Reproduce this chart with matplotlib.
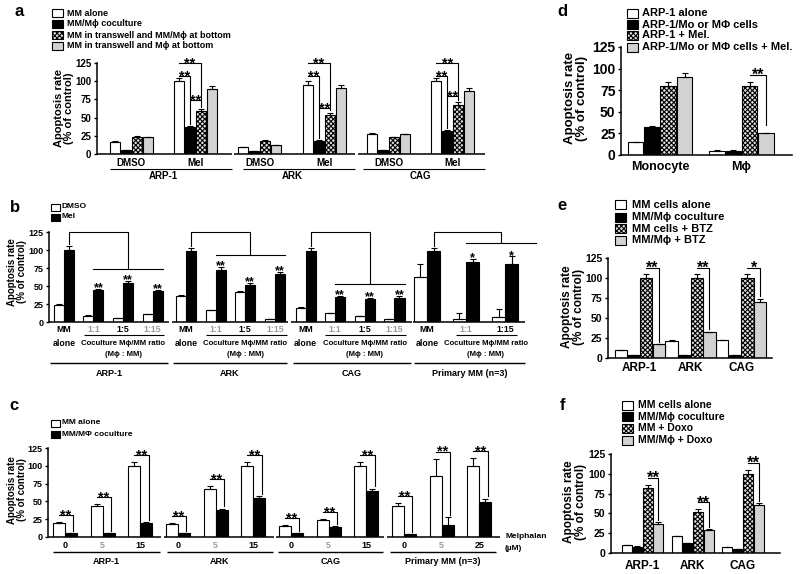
import matplotlib
matplotlib.use('Agg')
import numpy as np
import matplotlib.pyplot as plt
from matplotlib.patches import Rectangle
from matplotlib.transforms import offset_copy

plt.rcParams['font.family'] = ['Liberation Sans', 'DejaVu Sans']
plt.rcParams['font.weight'] = 'bold'
plt.rcParams['hatch.linewidth'] = 0.8

# ---------------- data ----------------
# a
a_lines = ['ARP-1', 'ARK', 'CAG']
a_conds = ['DMSO', 'Mel']
a_labels = ['MM alone', 'MM/Mϕ coculture', 'MM in transwell and MM/Mϕ at bottom',
            'MM in transwell and Mϕ at bottom']
a_dmso = [[17, 5, 24, 23], [9, 4, 18, 12], [28, 5, 23, 27]]
a_dmso_err = [[0.5, 0.3, 1, 1], [0.5, 0.3, 1, 0.5], [1, 0.3, 1, 1]]
a_mel = [[100, 37, 59, 89], [95, 18, 54, 90], [100, 31, 67, 86]]
a_mel_err = [[5, 1.5, 2.5, 5], [5, 1, 3, 5], [5, 1.5, 4, 5]]

# b
b_lines = ['ARP-1', 'ARK', 'CAG', 'Primary MM (n=3)']
b_ratios = [['1:1', '1:5', '1:15'], ['1:1', '1:5', '1:15'], ['1:1', '1:5', '1:15'], ['1:1', '1:15']]
b_dmso = [[24, 9, 5, 11], [36, 16, 41, 4], [20, 12, 8, 4], [63, 4, 7]]
b_dmso_err = [[1, 0.5, 0.5, 0.5], [1.5, 0.5, 2, 0.5], [1, 0.5, 0.5, 0.5], [17, 9, 11]]
b_mel = [[100, 44, 54, 43], [98, 72, 51, 66], [98, 35, 32, 34], [98, 84, 81]]
b_mel_err = [[5, 2, 3, 2], [5, 4, 3, 4], [5, 1.5, 2, 2], [5, 3, 10]]
b_stars = ['**', '**', '**', '*']

# c
c_lines = ['ARP-1', 'ARK', 'CAG', 'Primary MM (n=3)']
c_doses = [['0', '5', '15'], ['0', '5', '15'], ['0', '5', '15'], ['0', '5', '25']]
c_alone = [20, 44, 100, 18, 68, 100, 16, 24, 100, 44, 86, 100]
c_alone_err = [1, 2, 5, 2, 4, 5, 0.5, 1, 5, 4, 24, 11]
c_cocult = [5, 5, 20, 5, 38, 55, 5, 14, 65, 4, 17, 49]
c_cocult_err = [0.3, 0.3, 1, 0.3, 2, 3, 0.3, 1, 3, 0.3, 11, 5]

# d
d_cells = ['Monocyte', 'Mϕ']
d_labels = ['ARP-1 alone', 'ARP-1/Mo or MΦ cells', 'ARP-1 + Mel.', 'ARP-1/Mo or MΦ cells + Mel.']
d_vals = [[15, 32, 80, 90], [5, 5, 80, 25]]
d_err = [[0.5, 1, 4, 5], [0.3, 0.3, 4, 1]]

# e
e_lines = ['ARP-1', 'ARK', 'CAG']
e_labels = ['MM cells alone', 'MM/Mϕ coculture', 'MM cells + BTZ', 'MM/Mϕ + BTZ']
e_vals = [[10, 4, 100, 17], [21, 4, 100, 32], [22, 4, 100, 70]]
e_err = [[0.5, 0.3, 5, 0.5], [1, 0.3, 5, 1], [1, 0.3, 5, 4]]
e_stars = ['**', '**', '*']

# f
f_lines = ['ARP-1', 'ARK', 'CAG']
f_labels = ['MM cells alone', 'MM/Mϕ coculture', 'MM + Doxo', 'MM/Mϕ + Doxo']
f_vals = [[10, 8, 82, 37], [21, 12, 52, 29], [7, 5, 100, 60]]
f_err = [[0.5, 0.3, 4, 2], [1, 0.5, 3, 1], [0.5, 0.3, 5, 3]]
f_stars = ['**', '**', '**']

# ---------------- helpers ----------------
W, H = 800, 574
fig = plt.figure(figsize=(8, 5.74), dpi=100)
FILL = ['white', 'black', '#e0e0e0', '#d2d2d2']
HATCH = [None, None, 'xxxxxxx', None]
GREY = '#9a9a9a'


def make_ax(left, right, top, bottom, xlim, tsize):
    ax = fig.add_axes([left / W, 1 - bottom / H, (right - left) / W, (bottom - top) / H])
    ax.set_xlim(*xlim)
    ax.set_ylim(0, 125)
    ax.set_yticks([0, 25, 50, 75, 100, 125])
    ax.spines['top'].set_visible(False)
    ax.spines['right'].set_visible(False)
    ax.spines['left'].set_linewidth(1.1)
    ax.spines['bottom'].set_linewidth(1.1)
    ax.tick_params(axis='y', length=2.5, width=1, labelsize=tsize, pad=1.5)
    ax.tick_params(axis='x', length=0)
    ax.set_xticks([])
    return ax


def bars4(ax, centers, vals, errs, width, step):
    vals = np.array(vals, float)
    errs = np.array(errs, float)
    centers = np.array(centers, float)
    for i in range(4):
        x = centers + (i - 1.5) * step
        ax.bar(x, vals[:, i], width, color=FILL[i], edgecolor='k', hatch=HATCH[i], lw=0.8, zorder=2)
        ax.errorbar(x, vals[:, i], yerr=[np.zeros(len(x)), errs[:, i]], fmt='none', ecolor='k',
                    elinewidth=0.8, capsize=2, capthick=0.8, zorder=3)


def under(ax, x0, x1, px, lw=0.9):
    tr = offset_copy(ax.get_xaxis_transform(), fig=fig, y=-px, units='dots')
    ax.plot([x0, x1], [0, 0], transform=tr, color='k', lw=lw, clip_on=False, solid_capstyle='butt')


def under_text(ax, x, px, s, size, color='k', weight='bold'):
    tr = offset_copy(ax.get_xaxis_transform(), fig=fig, y=-px, units='dots')
    ax.text(x, 0, s, transform=tr, ha='center', va='center', fontsize=size, color=color, fontweight=weight)


def star(ax, x, y, s, size):
    ax.annotate(s, (x, y), xytext=(0, -0.3 * size), textcoords='offset points',
                ha='center', va='baseline', fontsize=size, annotation_clip=False)


def bracket(ax, x1, x2, h, y_end, s, size=10):
    ax.plot([x1, x2, x2], [h, h, y_end], color='k', lw=0.8, clip_on=False)
    star(ax, (x1 + x2) / 2, h, s, size)


def legend(x, ys, labels, w, h, size, gap=4, styles=(0, 1, 2, 3)):
    for y, lab, i in zip(ys, labels, styles):
        fig.add_artist(Rectangle((x / W, 1 - (y + h / 2) / H), w / W, h / H, transform=fig.transFigure,
                                 facecolor=FILL[i], edgecolor='k', hatch=HATCH[i], lw=0.8))
        fig.text((x + w + gap) / W, 1 - y / H, lab, fontsize=size, va='center', ha='left')


def ylab(x, y, size):
    fig.text(x / W, 1 - y / H, 'Apoptosis rate\n(% of control)', rotation=90, ha='center',
             va='center', fontsize=size, linespacing=1.05)


def plabel(x, y, s):
    fig.text(x / W, 1 - y / H, s, fontsize=12, va='center', ha='left')


# ---------------- panel a ----------------
ax = make_ax(97, 485, 63, 154, (-0.53, 5.5), 7)
ax.spines['bottom'].set_visible(False)
s = 0.171
for g in range(3):
    cd, cm = 2 * g, 2 * g + 1
    bars4(ax, [cd], [a_dmso[g]], [a_dmso_err[g]], 0.155, s)
    bars4(ax, [cm], [a_mel[g]], [a_mel_err[g]], 0.155, s)
    xw, xb, xc = cm - 1.5 * s, cm - 0.5 * s, cm + 0.5 * s
    h3 = [74, 63, 79][g]
    bracket(ax, xw, xb, 107, a_mel[g][1] + a_mel_err[g][1] + 3, '**', 10.5)
    bracket(ax, xw, xc, 125, h3 + 2, '**', 10.5)
    bracket(ax, xb, xc, h3, a_mel[g][2] + a_mel_err[g][2] + 3, '**', 10.5)
    under_text(ax, cd, 9, a_conds[0], 7)
    under_text(ax, cm, 9, a_conds[1], 7)
    under_text(ax, cd + 0.5, 22, a_lines[g], 7)
for x0, x1 in [(-0.53, 1.57), (1.6, 3.48), (3.53, 5.5)]:
    under(ax, x0, x1, 0, lw=1.1)
for x0, x1 in [(-0.33, 1.57), (1.74, 3.48), (3.61, 5.5)]:
    under(ax, x0, x1, 14.5, lw=0.8)
ylab(64, 108, 8)
plabel(14, 12, 'a')
legend(52, [13, 24, 35, 46], a_labels, 11, 7, 6.5)

# ---------------- panel b ----------------
ax = make_ax(49, 525, 232, 322, (0, 16.08), 6.5)
ax.spines['bottom'].set_visible(False)
b_off = [0.0, 4.13, 8.17, 12.27]
b_lower = [73, 93, 53, 110]
b_span = [(0.0, 4.05), (4.16, 8.07), (8.18, 12.26), (12.3, 16.08)]
b_gline = [(0.03, 4.02), (4.19, 8.04), (8.24, 12.22), (12.32, 16.08)]
for g in range(4):
    n = len(b_mel[g])
    if n == 4:
        pos = b_off[g] + np.array([0.5, 1.5, 2.5, 3.5])
        w = 0.34
        ext = 0.0
    else:
        pos = b_off[g] + np.array([0.5, 1.82, 3.14])
        w = 0.45
        ext = 0.6
    ax.bar(pos - w / 2, b_dmso[g], w, color='white', edgecolor='k', lw=0.8, zorder=2)
    ax.bar(pos + w / 2, b_mel[g], w, color='black', edgecolor='k', lw=0.8, zorder=2)
    ax.errorbar(pos - w / 2, b_dmso[g], yerr=[np.zeros(n), b_dmso_err[g]], fmt='none', ecolor='k',
                elinewidth=0.8, capsize=2, capthick=0.8, zorder=3)
    ax.errorbar(pos + w / 2, b_mel[g], yerr=[np.zeros(n), b_mel_err[g]], fmt='none', ecolor='k',
                elinewidth=0.8, capsize=2, capthick=0.8, zorder=3)
    for i in range(1, n):
        star(ax, pos[i] + w / 2, b_mel[g][i] + b_mel_err[g][i] + 2, b_stars[g], 9)
    # brackets
    xl, xr = pos[1], pos[-1] + w + ext
    xm = (xl + xr) / 2
    L = b_lower[g]
    ax.plot([xl, xr], [L, L], color='k', lw=0.8, clip_on=False)
    x0 = pos[0] + w / 2
    ax.plot([x0, x0, xm, xm], [b_mel[g][0] + b_mel_err[g][0] + 3, 125, 125, L], color='k', lw=0.8,
            clip_on=False)
    # labels
    under_text(ax, pos[0], 8, 'MM', 6.3)
    under_text(ax, pos[0], 21, 'alone', 6.3)
    for i, r in enumerate(b_ratios[g]):
        bold_r = (r == '1:5') or (n == 3 and r == '1:15')
        under_text(ax, pos[i + 1], 8, r, 6.3, color='k' if bold_r else GREY)
    under(ax, pos[1] - 0.33, pos[-1] + 0.4, 13, lw=0.8)
    mid = (pos[1] + pos[-1]) / 2
    under_text(ax, mid, 21.5, 'Coculture Mϕ/MM ratio', 5.6)
    under_text(ax, mid, 33, '(Mϕ : MM)', 5.6)
    under(ax, *b_span[g], 0, lw=1.1)
    under(ax, *b_gline[g], 41, lw=1.0)
    under_text(ax, (b_gline[g][0] + b_gline[g][1]) / 2, 51, b_lines[g], 6.5)
ylab(17, 272, 7)
plabel(10, 208, 'b')
legend(51, [207, 217], ['DMSO', 'Mel'], 9, 7, 6, gap=2, styles=(0, 1))

# ---------------- panel c ----------------
ax = make_ax(48, 500, 448, 537, (0, 12), 6.5)
ax.spines['bottom'].set_visible(False)
c_span = [(0, 2.99), (3.08, 5.99), (6.05, 8.93), (9.0, 12.0)]
c_gline = [(0.13, 2.97), (3.16, 5.97), (6.1, 8.89), (9.07, 11.9)]
cpos = np.arange(12) + 0.45
w = 0.32
ax.bar(cpos - w / 2, c_alone, w, color='white', edgecolor='k', lw=0.8, zorder=2)
ax.bar(cpos + w / 2, c_cocult, w, color='black', edgecolor='k', lw=0.8, zorder=2)
ax.errorbar(cpos - w / 2, c_alone, yerr=[np.zeros(12), c_alone_err], fmt='none', ecolor='k',
            elinewidth=0.8, capsize=2, capthick=0.8, zorder=3)
ax.errorbar(cpos + w / 2, c_cocult, yerr=[np.zeros(12), c_cocult_err], fmt='none', ecolor='k',
            elinewidth=0.8, capsize=2, capthick=0.8, zorder=3)
for k in range(12):
    h = c_alone[k] + c_alone_err[k] + 10
    bracket(ax, cpos[k] - w / 2, cpos[k] + w / 2 + 0.06, h, c_cocult[k] + c_cocult_err[k] + 3, '**', 10.5)
for g in range(4):
    for i, d in enumerate(c_doses[g]):
        under_text(ax, cpos[3 * g + i], 8, d, 6.5, color=GREY if d == '5' else 'k')
    under(ax, *c_span[g], 0, lw=1.1)
    under(ax, *c_gline[g], 15, lw=1.0)
    under_text(ax, (c_gline[g][0] + c_gline[g][1]) / 2, 24, c_lines[g], 6.5)
fig.text(505 / W, 1 - 537 / H, 'Melphalan', fontsize=6, va='center', ha='left')
fig.text(505 / W, 1 - 549 / H, '(µM)', fontsize=6, va='center', ha='left')
ylab(17, 490, 7)
plabel(9, 406, 'c')
legend(51, [423, 434], ['MM alone', 'MM/MΦ coculture'], 9, 7, 6, gap=2, styles=(0, 1))

# ---------------- panel d ----------------
ax = make_ax(621, 792, 47, 155, (-0.48, 1.62), 10)
bars4(ax, [0, 1], d_vals, d_err, 0.19, 0.2)
ax.set_xticks([0, 1])
ax.set_xticklabels(d_cells, fontsize=9)
ax.tick_params(axis='x', pad=4)
bracket(ax, 1 + 0.1, 1 + 0.3, 93, d_vals[1][3] + d_err[1][3] + 9, '**', 11.5)
ylab(576, 98, 9.5)
plabel(557, 12, 'd')
legend(627, [13, 24.5, 35.5, 47], d_labels, 11, 9, 8, gap=4)

# ---------------- panel e ----------------
ax = make_ax(608, 772, 258, 358, (-0.63, 2.61), 7.5)
bars4(ax, [0, 1, 2], e_vals, e_err, 0.24, 0.25)
ax.set_xticks([0, 1, 2])
ax.set_xticklabels(e_lines, fontsize=8.5)
ax.tick_params(axis='x', pad=3)
for g in range(3):
    bracket(ax, g + 0.125, g + 0.375, 113, e_vals[g][3] + e_err[g][3] + 3, e_stars[g], 11.5)
ylab(573, 307, 8.5)
plabel(557, 206, 'e')
legend(615, [205, 217, 228.5, 240], e_labels, 11, 9, 8, gap=6)

# ---------------- panel f ----------------
ax = make_ax(611, 780, 454, 553, (-0.63, 2.74), 7.5)
bars4(ax, [0, 1, 2], f_vals, f_err, 0.2, 0.21)
ax.set_xticks([0, 1, 2])
ax.set_xticklabels(f_lines, fontsize=8.5)
ax.tick_params(axis='x', pad=5)
for g in range(3):
    h = f_vals[g][2] + f_err[g][2] + 9
    bracket(ax, g + 0.105, g + 0.315, h, f_vals[g][3] + f_err[g][3] + 3, f_stars[g], 12)
ylab(575, 502, 8.5)
plabel(560, 405, 'f')
legend(622, [405, 416.5, 428, 440], f_labels, 11, 9, 7.5, gap=5)

fig.savefig('out.png', dpi=100)
